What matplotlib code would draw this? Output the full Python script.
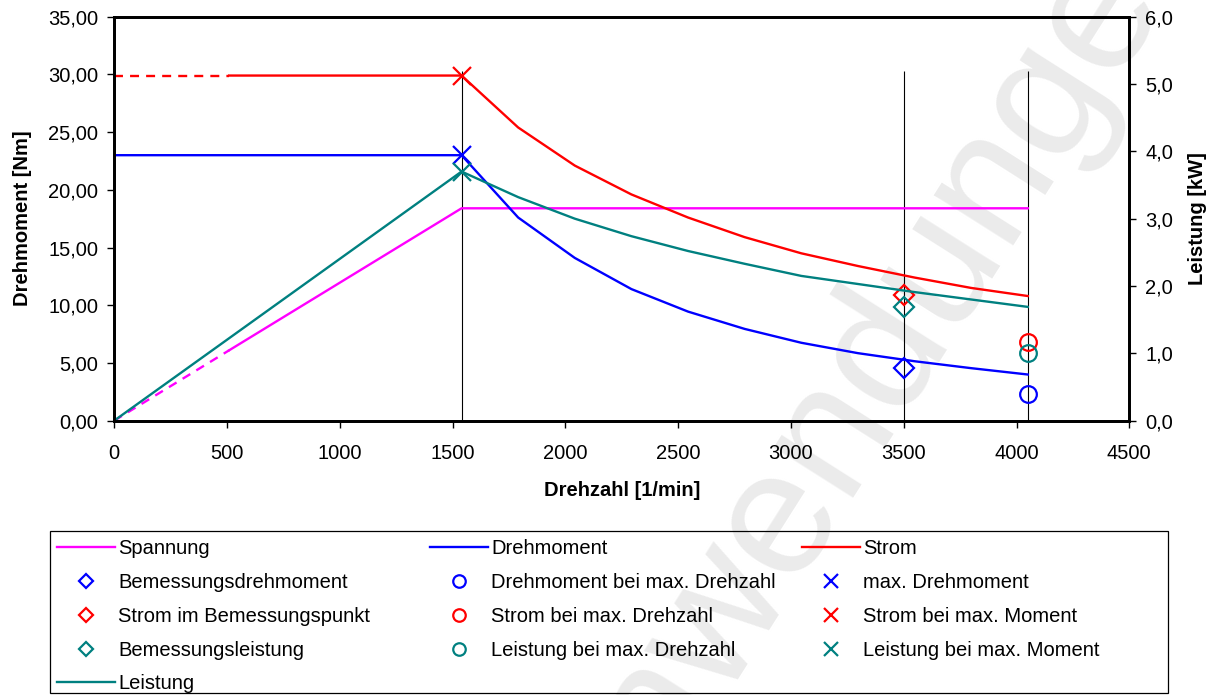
import matplotlib
matplotlib.use("Agg")
import matplotlib.pyplot as plt
from matplotlib.lines import Line2D
from matplotlib.patches import Rectangle
from matplotlib.ticker import FuncFormatter, MultipleLocator

plt.rcParams["font.family"] = ["Liberation Sans", "DejaVu Sans"]
plt.rcParams["font.size"] = 14.5

# --- data --------------------------------------------------------------
drehzahl = [0, 1540, 1791, 2042, 2293, 2544, 2795, 3046, 3297, 3548, 3799, 4050]
drehmoment = [23.0, 23.0, 17.6, 14.1, 11.4, 9.45, 7.95, 6.75, 5.85, 5.15, 4.55, 4.0]
leistung_kw = [0.0, 3.70, 3.32, 3.0, 2.74, 2.52, 2.33, 2.15, 2.03, 1.91, 1.80, 1.69]

strom_n_dash = [0, 510]
strom_dash = [29.9, 29.9]
strom_n = [510, 1540, 1791, 2042, 2293, 2544, 2795, 3046, 3297, 3548, 3799, 4050]
strom = [29.9, 29.9, 25.4, 22.1, 19.6, 17.6, 15.9, 14.5, 13.4, 12.4, 11.5, 10.8]

spannung_n_dash = [0, 510]
spannung_dash = [0.0, 6.1]
spannung_n = [510, 1540, 4050]
spannung = [6.1, 18.4, 18.4]

n_bemessung = 3500
n_max = 4050
n_max_moment = 1540

m_bemessung, m_max_n, m_max = 4.6, 2.35, 23.0
i_bemessung, i_max_n, i_max_m = 10.9, 6.85, 29.9
p_bemessung, p_max_n, p_max_m = 1.69, 1.0, 3.70

vlinien_n = [1540, 3500, 4050]
vlinien_top = 30.3

MAGENTA, BLUE, RED, TEAL = "#FF00FF", "#0000FF", "#FF0000", "#008080"

fig = plt.figure(figsize=(12.13, 6.95), dpi=100)
ax = fig.add_axes([0.0941, 0.3947, 0.8369, 0.5813])
ax.patch.set_visible(False)
ax2 = ax.twinx()

# light watermark running diagonally behind everything
fig.text(0.7214, 0.4576, "Anwendungen", fontsize=129,
         color="#ebebeb", rotation=57.6, ha="center", va="center",
         rotation_mode="anchor", zorder=-5)

ax.vlines(vlinien_n, 0, vlinien_top, color="black", lw=0.8)

lw = 1.7
dash = (0, (3.8, 3.0))
ax.plot(spannung_n_dash, spannung_dash, color=MAGENTA, lw=lw, ls=dash)
ax.plot(spannung_n, spannung, color=MAGENTA, lw=lw)
ax.plot(drehzahl, drehmoment, color=BLUE, lw=lw)
ax.plot(strom_n_dash, strom_dash, color=RED, lw=lw, ls=dash)
ax.plot(strom_n, strom, color=RED, lw=lw)
ax2.plot(drehzahl, leistung_kw, color=TEAL, lw=lw)

mk = dict(ls="none", mfc="none", mew=1.6)
ax.plot([n_bemessung], [m_bemessung], marker="D", ms=10, mec=BLUE, **mk)
ax.plot([n_max], [m_max_n], marker="o", ms=12, mec=BLUE, **mk)
ax.plot([n_max_moment], [m_max], marker="x", ms=13, mec=BLUE, **mk)
ax.plot([n_bemessung], [i_bemessung], marker="D", ms=10, mec=RED, **mk)
ax.plot([n_max], [i_max_n], marker="o", ms=12, mec=RED, **mk)
ax.plot([n_max_moment], [i_max_m], marker="x", ms=13, mec=RED, **mk)
ax2.plot([n_bemessung], [p_bemessung], marker="D", ms=10, mec=TEAL, **mk)
ax2.plot([n_max], [p_max_n], marker="o", ms=12, mec=TEAL, **mk)
ax2.plot([n_max_moment], [p_max_m], marker="x", ms=13, mec=TEAL, **mk)

ax.set_xlim(0, 4500)
ax.set_ylim(0, 35)
ax2.set_ylim(0, 6)
ax.xaxis.set_major_locator(MultipleLocator(500))
ax.yaxis.set_major_locator(MultipleLocator(5))
ax2.yaxis.set_major_locator(MultipleLocator(1))
ax.yaxis.set_major_formatter(FuncFormatter(lambda v, p: f"{v:.2f}".replace(".", ",")))
ax2.yaxis.set_major_formatter(FuncFormatter(lambda v, p: f"{v:.1f}".replace(".", ",")))

for a in (ax, ax2):
    for s in a.spines.values():
        s.set_linewidth(2)
ax.tick_params(axis="x", length=5, width=1, pad=12, labelsize=14.5)
ax.tick_params(axis="y", length=5, width=1, pad=6.5, labelsize=14.5)
ax2.tick_params(axis="y", length=5, width=1, pad=6.5, labelsize=14.5)

ax.set_xlabel("Drehzahl [1/min]", fontweight="bold")
ax.set_ylabel("Drehmoment [Nm]", fontweight="bold")
ax2.set_ylabel("Leistung [kW]", fontweight="bold")
ax.xaxis.set_label_coords(0.5, -0.149)
ax.yaxis.set_label_coords(-0.081, 0.5)
ax2.yaxis.set_label_coords(1.058, 0.5)

# --- legend: three columns of equal width inside one frame -------------
def line_h(c):
    return Line2D([], [], color=c, lw=lw)


def mark_h(m, c, ms):
    return Line2D([], [], marker=m, ms=ms, mec=c, **mk)


cols = [
    ([line_h(MAGENTA), mark_h("D", BLUE, 7), mark_h("D", RED, 7),
      mark_h("D", TEAL, 7), line_h(TEAL)],
     ["Spannung", "Bemessungsdrehmoment", "Strom im Bemessungspunkt",
      "Bemessungsleistung", "Leistung"]),
    ([line_h(BLUE), mark_h("o", BLUE, 9), mark_h("o", RED, 9),
      mark_h("o", TEAL, 9)],
     ["Drehmoment", "Drehmoment bei max. Drehzahl", "Strom bei max. Drehzahl",
      "Leistung bei max. Drehzahl"]),
    ([line_h(RED), mark_h("x", BLUE, 10), mark_h("x", RED, 10),
      mark_h("x", TEAL, 10)],
     ["Strom", "max. Drehmoment", "Strom bei max. Moment",
      "Leistung bei max. Moment"]),
]
col_x = [0.047, 0.3545, 0.661]
for (h, l), x in zip(cols, col_x):
    fig.legend(h, l, loc="upper left", bbox_to_anchor=(x, 0.2238),
               bbox_transform=fig.transFigure, frameon=False, borderpad=0,
               borderaxespad=0, handlelength=2.9, handletextpad=0.15,
               labelspacing=0.73, fontsize=14.5)

fig.add_artist(Rectangle((0.0412, 0.003), 0.9218, 0.2334,
                         transform=fig.transFigure, fill=False,
                         ec="black", lw=0.9))

fig.savefig("out.png", dpi=100)
